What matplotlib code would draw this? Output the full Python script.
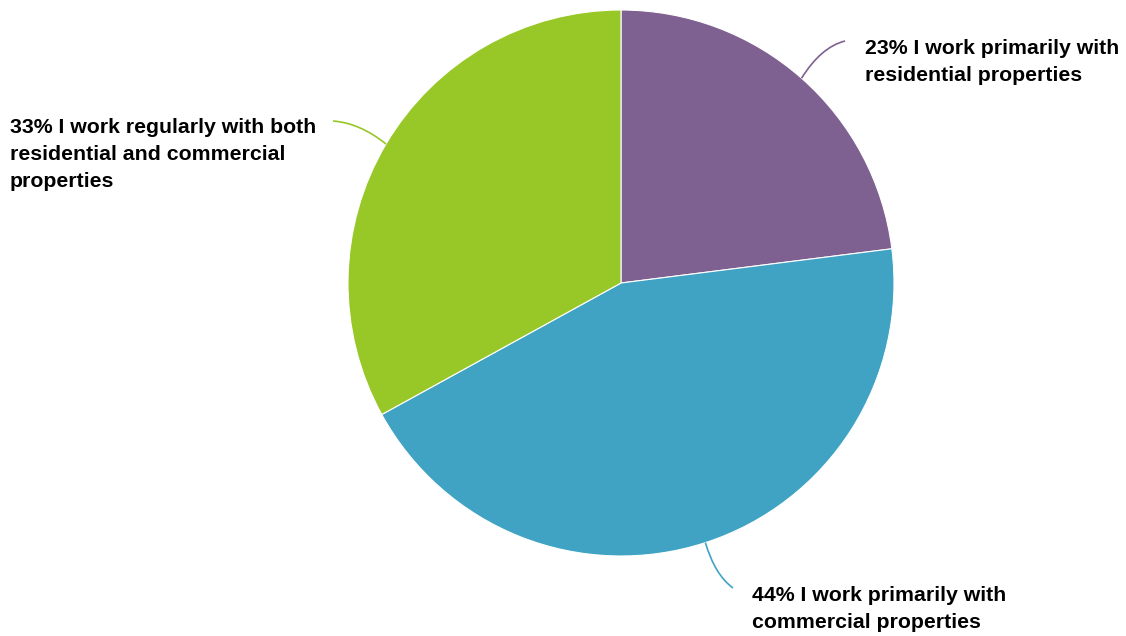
import numpy as np
import matplotlib
matplotlib.use('Agg')
from matplotlib import pyplot as plt
from matplotlib.path import Path
from matplotlib.patches import PathPatch

labels = ['23% I work primarily with\nresidential properties',
          '44% I work primarily with\ncommercial properties',
          '33% I work regularly with both\nresidential and commercial\nproperties']
values = [23, 44, 33]
colors = ['#7e6190', '#40a3c3', '#97c827']

W, H = 1126, 636
CX, CY, R = 621, H - 283, 273

# label anchor (left, top) and leader end / bend, in pixels from top-left
text_pos = [(865, 39), (752, 586), (10, 118)]
line_end = [(845, 41), (733, 588), (333, 121)]
bend = [(821, 47), (715, 575), (360, 123)]

def px(p):
    return (p[0], H - p[1])

fig = plt.figure(figsize=(W / 100, H / 100), dpi=100)
ax = fig.add_axes([0, 0, 1, 1])

wedges, _ = ax.pie(values, colors=colors, startangle=90, counterclock=False,
                   center=(CX, CY), radius=R, frame=True,
                   wedgeprops=dict(edgecolor='white', linewidth=0.8))
ax.set_xlim(0, W)
ax.set_ylim(0, H)
ax.axis('off')

for i, w in enumerate(wedges):
    mid = np.deg2rad((w.theta1 + w.theta2) / 2)
    start = (CX + R * np.cos(mid), CY + R * np.sin(mid))
    verts = [start, px(bend[i]), px(line_end[i])]
    path = Path(verts, [Path.MOVETO, Path.CURVE3, Path.CURVE3])
    ax.add_patch(PathPatch(path, fill=False, edgecolor=colors[i], linewidth=1.2))
    tx, ty = px(text_pos[i])
    ax.text(tx, ty, labels[i], ha='left', va='top', fontsize=15.3, fontweight='bold',
            family=['Liberation Sans', 'DejaVu Sans'], color='#000000', linespacing=1.54)

plt.savefig('out.png', dpi=100)
